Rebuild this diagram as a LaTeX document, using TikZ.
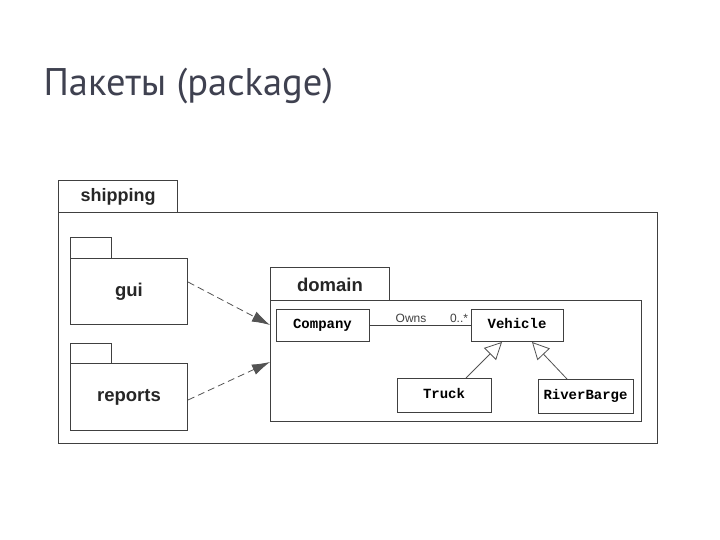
\documentclass[tikz,border=0pt]{standalone}
\usepackage{fontspec}
\setmainfont{Liberation Sans}
\newfontfamily\titlefont{PT Sans}
\newfontfamily\monob{Liberation Mono}
\usetikzlibrary{arrows.meta}
\definecolor{ln}{HTML}{404040}
\definecolor{tt}{HTML}{3F4150}
\begin{document}
\begin{tikzpicture}[x=1pt,y=-1pt,
  box/.style={draw=ln,line width=0.9pt,fill=white},
  pkglabel/.style={font=\bfseries\fontsize{18.5}{22}\selectfont,text=black!85},
  cls/.style={draw=ln,line width=0.9pt,fill=white,font=\monob\bfseries\fontsize{14}{16}\selectfont,inner sep=0pt,text height=8pt,text depth=2pt},
  dep/.style={draw=ln!90,line width=0.8pt,dash pattern=on 7pt off 4pt,-{Latex[length=18pt,width=11pt]}},
  gen/.style={draw=ln!90,line width=0.8pt,-{Triangle[open,length=17pt,width=17pt,fill=white]}}]
\useasboundingbox (0,0) rectangle (720,540);
\fill[white] (0,0) rectangle (720,540);
\node[anchor=west,font=\titlefont\fontsize{38.5}{44}\selectfont,text=tt] (title) at (40,86) {Пакеты (package)};
% shipping
\draw[box] (58,180) rectangle (177,212);
\draw[box] (58,212) rectangle (657,443);
\node[font=\bfseries\fontsize{18}{21}\selectfont,text=black!85] (shipl) at (118,197) {shipping};
% gui
\draw[box] (70,237) rectangle (111,258);
\draw[box] (70,258) rectangle (187,324);
\coordinate (guiE) at (188,282);
\node[pkglabel] (guil) at (129,292) {gui};
% reports
\draw[box] (70,343) rectangle (111,363);
\draw[box] (70,363) rectangle (187,430);
\coordinate (repE) at (188,400);
\node[pkglabel] (repl) at (129,397) {reports};
% domain
\draw[box] (270,267) rectangle (389,300);
\draw[box] (270,300) rectangle (641,421);
\node[pkglabel] (doml) at (330,285) {domain};
\coordinate (domA) at (270,325);
\coordinate (domB) at (270,362);
% classes
\node[cls,minimum width=93pt,minimum height=32pt] (company) at (322.5,325) {Company};
\node[cls,minimum width=92pt,minimum height=32pt] (vehicle) at (517,325) {Vehicle};
\node[cls,minimum width=94pt,minimum height=34pt] (truck) at (444,395) {Truck};
\node[cls,minimum width=95pt,minimum height=34pt] (barge) at (585.5,396) {RiverBarge};
\draw[ln,line width=0.9pt] (company) -- (vehicle);
\node[font=\fontsize{12}{14}\selectfont,text=ln] (owns) at (411,318) {Owns};
\node[font=\fontsize{12}{14}\selectfont,text=ln] (mult) at (459,318) {0..*};
\draw[gen] (466,378) -- (502,342);
\draw[gen] (567,379) -- (532,342);
% dependencies
\draw[dep] (guiE) -- (domA);
\draw[dep] (repE) -- (domB);
\end{tikzpicture}
\end{document}
